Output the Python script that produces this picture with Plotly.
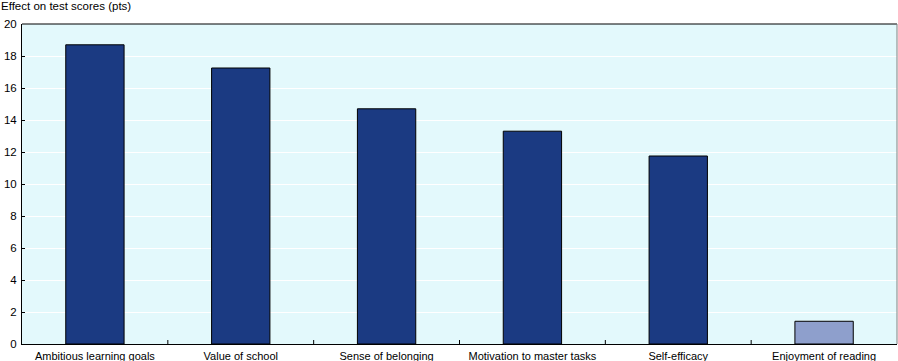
import plotly.graph_objects as go

categories = ["Ambitious learning goals", "Value of school", "Sense of belonging",
              "Motivation to master tasks", "Self-efficacy", "Enjoyment of reading"]
values = [18.7, 17.25, 14.7, 13.3, 11.75, 1.42]
bar_colors = ["#1b3a82", "#1b3a82", "#1b3a82", "#1b3a82", "#1b3a82", "#8e9fcc"]
y_ticks = [0, 2, 4, 6, 8, 10, 12, 14, 16, 18, 20]

fig = go.Figure(go.Bar(
    x=categories, y=values,
    marker=dict(color=bar_colors, line=dict(color="#000000", width=1)),
    width=0.4,
))

fig.update_layout(
    width=898, height=361,
    margin=dict(l=22, r=1, t=24, b=17, autoexpand=False),
    plot_bgcolor="#e3f9fc",
    paper_bgcolor="#ffffff",
    font=dict(family="Liberation Sans, Arial, sans-serif", size=11, color="#000000"),
    showlegend=False,
    annotations=[dict(text="Effect on test scores (pts)", x=0, xref="paper",
                      y=1, yref="paper", yshift=10, xanchor="left", yanchor="bottom",
                      showarrow=False, xshift=-23, font=dict(size=11.5))],
)
fig.update_xaxes(showline=True, linecolor="#000000", linewidth=1, mirror=False,
                 ticks="", showgrid=False, tickfont=dict(size=11), automargin=False,
                 ticklabelstandoff=2)
fig.update_yaxes(range=[0, 20], tickvals=y_ticks, showline=True, linecolor="#000000",
                 linewidth=1, ticks="inside", ticklen=3, tickcolor="#000000",
                 gridcolor="#ffffff", gridwidth=1, zeroline=False, tickfont=dict(size=11.5),
                 automargin=False, ticklabelstandoff=2)
fig.add_shape(type="line", xref="paper", yref="paper", x0=0, x1=1, y0=1, y1=1,
              line=dict(color="#000000", width=1))
fig.add_shape(type="line", xref="paper", yref="paper", x0=1, x1=1, y0=0, y1=1,
              line=dict(color="#808080", width=1))
for i in range(1, len(categories)):
    fig.add_shape(type="line", xref="x", yref="y", x0=i - 0.5, x1=i - 0.5, y0=0, y1=0.25,
                  line=dict(color="#000000", width=1))

fig.write_html("out.html", config={"displayModeBar": False},
               post_script="document.body.style.margin='0';document.body.style.overflow='hidden';")
